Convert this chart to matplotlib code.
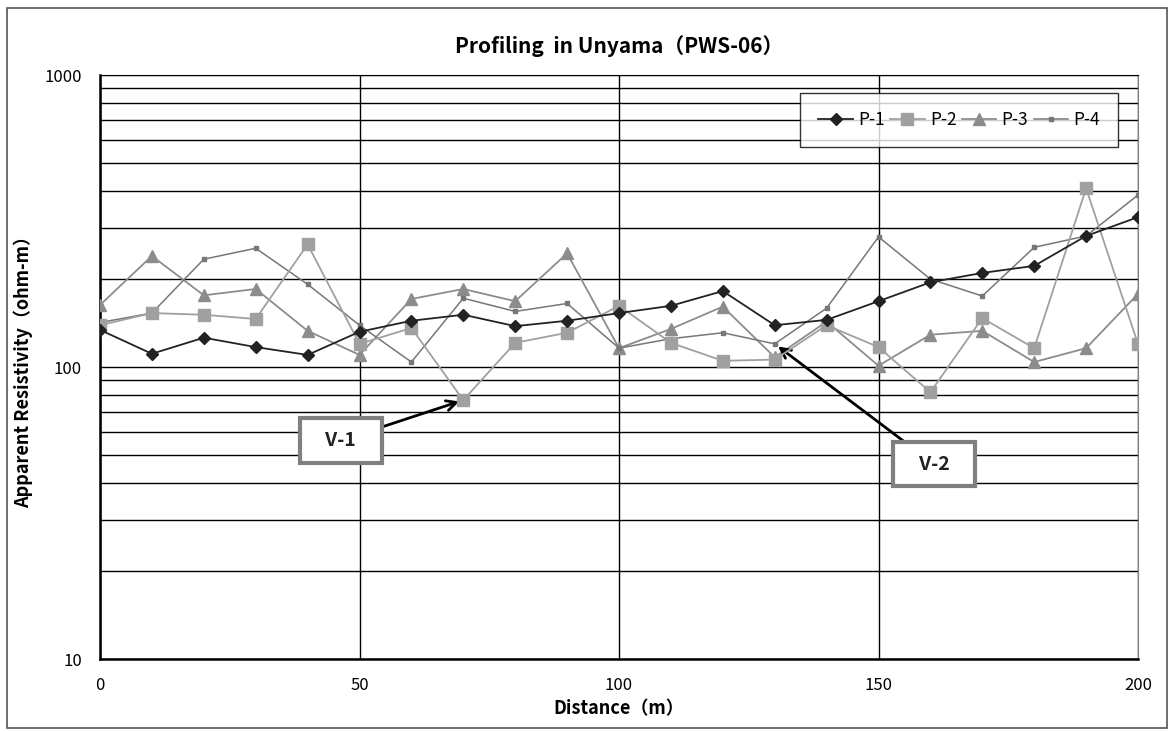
import matplotlib
matplotlib.use('Agg')
import matplotlib.pyplot as plt
from matplotlib.patches import Rectangle
from matplotlib.ticker import FixedLocator, NullFormatter

plt.rcParams['font.family'] = ['Noto Sans CJK JP', 'DejaVu Sans']

# distance (m)
dist = [0, 10, 20, 30, 40, 50, 60, 70, 80, 90, 100,
        110, 120, 130, 140, 150, 160, 170, 180, 190, 200]

# apparent resistivity (ohm-m)
p1 = [134, 111, 126, 117, 110, 132, 144, 151, 138, 144, 153,
      162, 182, 139, 145, 168, 195, 210, 222, 281, 326]
p2 = [139, 153, 151, 146, 263, 120, 136, 77, 121, 131, 162,
      121, 105, 106, 139, 117, 82, 147, 116, 409, 120]
p3 = [163, 240, 176, 185, 133, 110, 171, 185, 168, 245, 116,
      135, 161, 108, 143, 101, 129, 133, 104, 116, 178]
p4 = [142, 153, 234, 255, 192, 139, 104, 172, 155, 165, 116,
      125, 131, 120, 159, 279, 200, 175, 257, 281, 388]

fig = plt.figure(figsize=(11.76, 7.31), dpi=100)
ax = fig.add_axes([100/1176, 1-659/731, 1038/1176, 584/731])

ax.plot(dist, p1, color='#222222', lw=1.3, marker='D', ms=6, label='P-1', zorder=5)
ax.plot(dist, p2, color='#a0a0a0', lw=1.3, marker='s', ms=8, label='P-2', zorder=4)
ax.plot(dist, p3, color='#8c8c8c', lw=1.3, marker='^', ms=8, label='P-3', zorder=3)
ax.plot(dist, p4, color='#777777', lw=1.1, marker='s', ms=3, label='P-4', zorder=3)

ax.set_yscale('log')
ax.set_ylim(10, 1000)
ax.set_xlim(0, 200)
ax.set_xticks([0, 50, 100, 150, 200])
ax.set_yticks([10, 100, 1000])
ax.set_yticklabels(['10', '100', '1000'])
minors = [m * 10**e for e in (1, 2) for m in range(2, 10)]
ax.yaxis.set_minor_locator(FixedLocator(minors))
ax.yaxis.set_minor_formatter(NullFormatter())
ax.tick_params(which='both', length=0, labelsize=12, pad=13)
ax.grid(True, which='both', axis='y', color='black', lw=1)
ax.grid(True, which='major', axis='x', color='black', lw=1)
ax.set_axisbelow(True)
for s in ['left', 'bottom']:
    ax.spines[s].set_linewidth(1.8)
    ax.spines[s].set_color('black')
ax.spines['right'].set_color('#808080')
ax.spines['top'].set_color('black')

ax.set_title('Profiling  in Unyama（PWS-06）', fontsize=15, fontweight='bold', pad=16)
ax.set_xlabel('Distance（m）', fontsize=13, fontweight='bold', labelpad=4)
ax.set_ylabel('Apparent Resistivity（ohm-m）', fontsize=13, fontweight='bold', labelpad=8)

leg = ax.legend(loc='upper left', bbox_to_anchor=(800/1176, 1-93/731), bbox_transform=fig.transFigure,
                ncol=4, fontsize=12.5, frameon=True, fancybox=False, handlelength=2.0,
                handletextpad=0.3, columnspacing=0.3, borderpad=1.05, borderaxespad=0)
leg.get_frame().set_edgecolor('black')
leg.get_frame().set_linewidth(1)

box = dict(boxstyle='square,pad=0.65', fc='white', ec='#808080', lw=3)
ax.annotate('   V-1   ', xy=(70, p2[7]), xytext=(46.4, 56), fontsize=14, fontweight='bold',
            ha='center', va='center', bbox=box, color='#222222',
            arrowprops=dict(arrowstyle='->', color='black', lw=2, shrinkA=0, shrinkB=3,
                            mutation_scale=18))
ax.annotate('   V-2   ', xy=(130, p4[13]), xytext=(160.7, 46.5), fontsize=14, fontweight='bold',
            ha='center', va='center', bbox=box, color='#222222',
            arrowprops=dict(arrowstyle='->', color='black', lw=2, shrinkA=0, shrinkB=3,
                            mutation_scale=18))

fig.patches.append(Rectangle((7/1176, 3/731), 1160/1176, 720/731, transform=fig.transFigure,
                             fill=False, ec='#555555', lw=1.2))

fig.savefig('out.png', dpi=100)
